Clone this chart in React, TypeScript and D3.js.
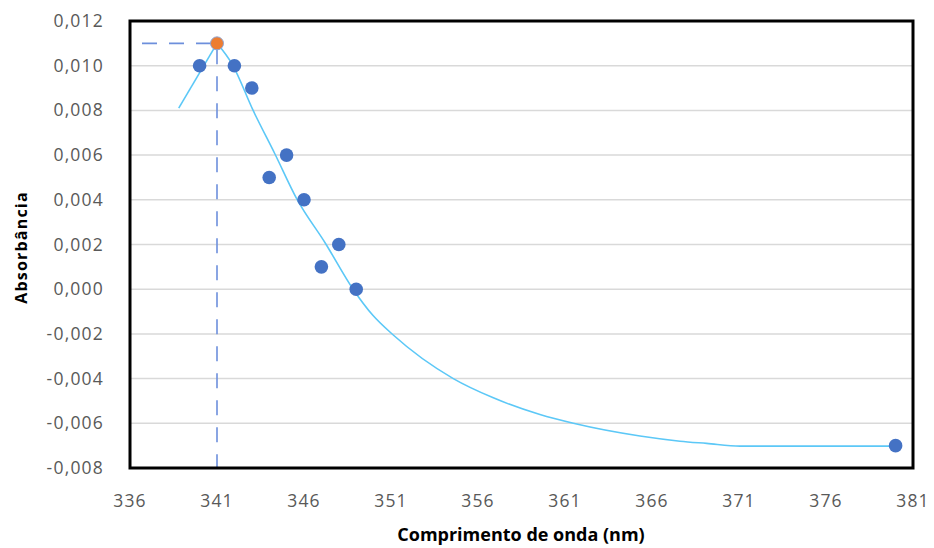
import React from "react";
import * as d3 from "d3";

const wavelengths = [340, 342, 343, 344, 345, 346, 347, 348, 349, 380];
const absorbance = [0.010, 0.010, 0.009, 0.005, 0.006, 0.004, 0.001, 0.002, 0.000, -0.007];
const peakX = [341];
const peakY = [0.011];
const trendLeftX = [338.8, 341];
const trendLeftY = [0.0081, 0.011];
const trendX = [341, 341.9, 343.07, 344.33, 345.6, 347.21, 348.82, 349.97, 351.13, 354.58, 356.88, 359.56, 361.48, 365.31, 367.61, 369.14, 371.06, 380];
const trendY = [0.011, 0.01003, 0.00801, 0.00605, 0.00402, 0.00208, 0.0, -0.00118, -0.00205, -0.0040, -0.00486, -0.00561, -0.0060, -0.00657, -0.0068, -0.0069, -0.00702, -0.00702];
const xTicks = [336, 341, 346, 351, 356, 361, 366, 371, 376, 381];
const yTicks = [0.012, 0.010, 0.008, 0.006, 0.004, 0.002, 0.0, -0.002, -0.004, -0.006, -0.008];
const xTitle = "Comprimento de onda (nm)";
const yTitle = "Absorbância";

const W = 934;
const H = 548;
const L = 130, R = 913, T = 21, B = 468;

export default function App() {
  const x = d3.scaleLinear().domain([336, 381]).range([L, R]);
  const y = d3.scaleLinear().domain([-0.008, 0.012]).range([B, T]);
  const lineLin = d3.line<number>().x((d, i) => x(trendLeftX[i])).y((d, i) => y(trendLeftY[i]));
  const lineSmooth = d3
    .line<number>()
    .x((d, i) => x(trendX[i]))
    .y((d, i) => y(trendY[i]))
    .curve(d3.curveMonotoneX);
  const fmt = (v: number) => v.toFixed(3).replace(".", ",");
  const tickFont = "'Open Sans', sans-serif";
  return (
    <svg width={W} height={H} style={{ position: "absolute", left: 0, top: 0, background: "#fff" }}>
      <rect x={0} y={0} width={W} height={H} fill="#fff" />
      {yTicks.map((t) => (
        <line key={"g" + t} x1={L} x2={R} y1={y(t)} y2={y(t)} stroke="#d9d9d9" strokeWidth={1.5} />
      ))}
      {yTicks.map((t) => (
        <text
          key={"yl" + t}
          x={104}
          y={y(t) + 6}
          textAnchor="end"
          fontFamily={tickFont}
          fontSize={17.5}
          letterSpacing={1.2}
          fill="#595959"
        >
          {fmt(t)}
        </text>
      ))}
      {xTicks.map((t) => (
        <text
          key={"xl" + t}
          x={x(t)}
          y={507}
          textAnchor="middle"
          fontFamily={tickFont}
          fontSize={17.5}
          letterSpacing={1.2}
          fill="#595959"
        >
          {t}
        </text>
      ))}
      <line
        x1={L}
        x2={x(peakX[0])}
        y1={y(peakY[0])}
        y2={y(peakY[0])}
        stroke="#6d8fdc"
        strokeWidth={1.6}
        strokeDasharray="15 12"
        strokeDashoffset={15}
      />
      <line
        x1={x(peakX[0])}
        x2={x(peakX[0])}
        y1={y(peakY[0])}
        y2={B}
        stroke="#6d8fdc"
        strokeWidth={1.6}
        strokeDasharray="15 12"
        strokeDashoffset={21}
      />
      <path d={lineLin(trendLeftX) || ""} fill="none" stroke="#5cc8f7" strokeWidth={1.6} />
      <path d={lineSmooth(trendX) || ""} fill="none" stroke="#5cc8f7" strokeWidth={1.6} />
      {wavelengths.map((w, i) => (
        <circle key={"p" + w} cx={x(w)} cy={y(absorbance[i])} r={6.8} fill="#4472c4" />
      ))}
      {peakX.map((w, i) => (
        <circle key={"pk" + w} cx={x(w)} cy={y(peakY[i])} r={6.5} fill="#ed7d31" stroke="#8fa6d6" strokeWidth={1} />
      ))}
      <rect x={L} y={T} width={R - L} height={B - T} fill="none" stroke="#000" strokeWidth={3} />
      <text
        x={521}
        y={541}
        textAnchor="middle"
        fontFamily="'Open Sans', sans-serif"
        fontWeight="bold"
        fontSize={18}
        letterSpacing={0}
        fill="#000"
      >
        {xTitle}
      </text>
      <text
        transform={`translate(27, ${y(0.002) + 3}) rotate(-90)`}
        textAnchor="middle"
        fontFamily="'Open Sans', sans-serif"
        fontWeight="bold"
        fontSize={16}
        letterSpacing={1.2}
        fill="#000"
      >
        {yTitle}
      </text>
    </svg>
  );
}
